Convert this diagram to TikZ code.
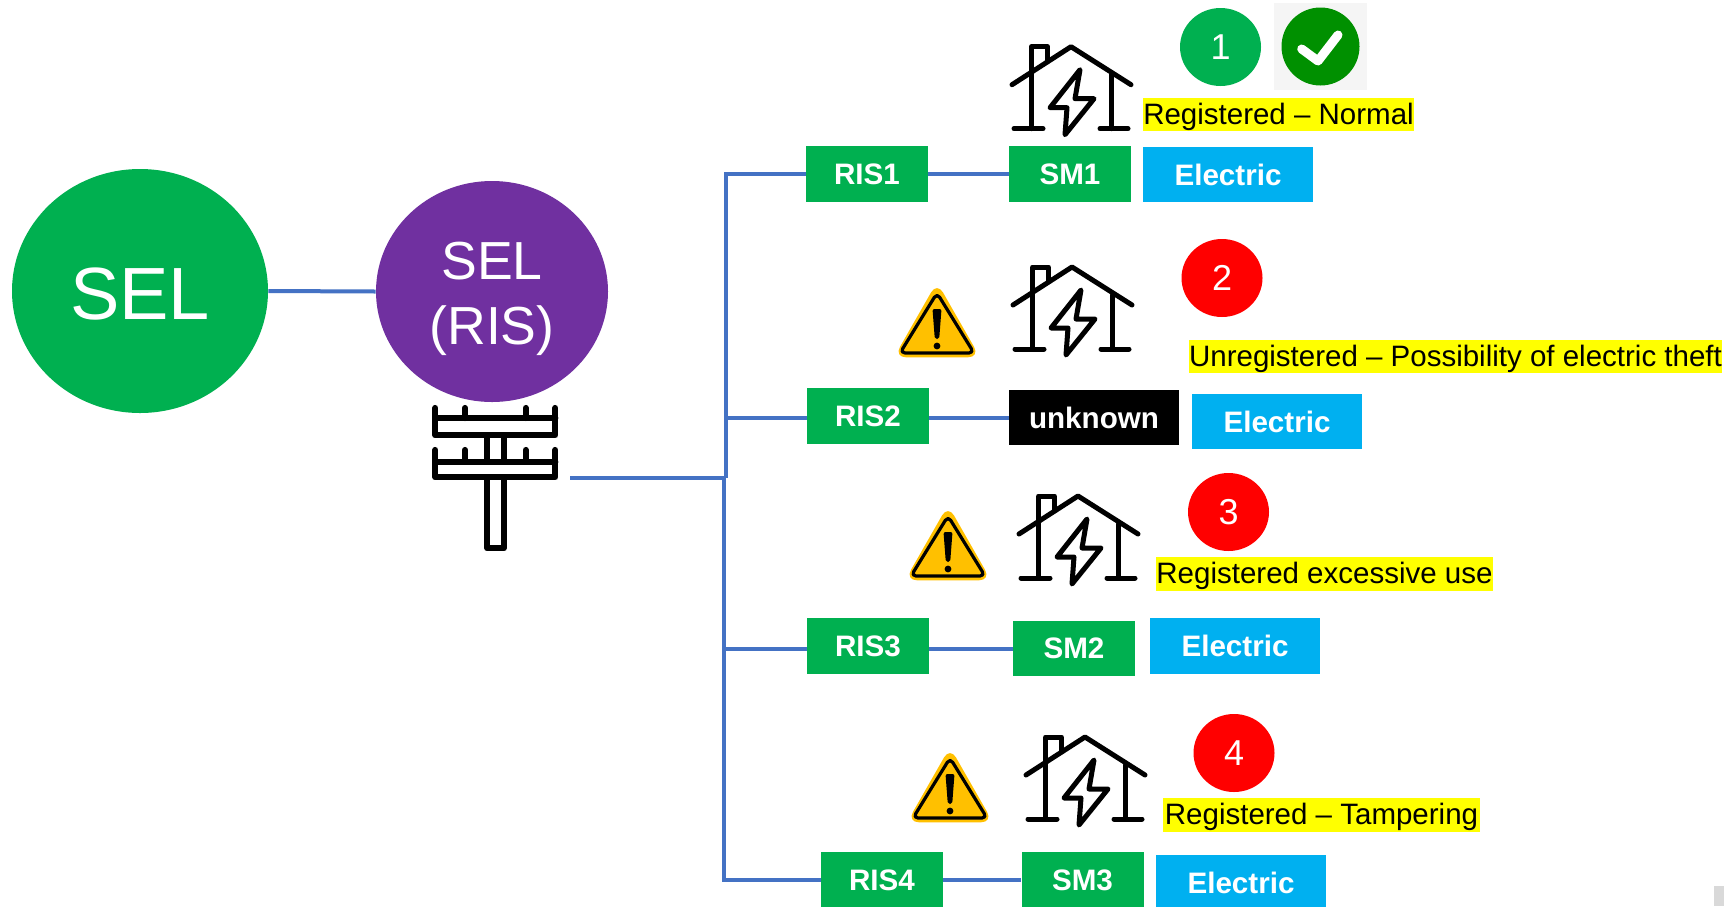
\documentclass[tikz,border=0pt]{standalone}
\usepackage{fontspec}
\usetikzlibrary{shapes.geometric}
\setmainfont{Liberation Sans}
\definecolor{cgreen}{RGB}{0,176,80}
\definecolor{cblue}{RGB}{0,176,240}
\definecolor{cpurple}{RGB}{112,48,160}
\definecolor{cline}{RGB}{68,114,196}
\definecolor{cwarn}{RGB}{255,192,0}
\definecolor{ccheck}{RGB}{0,144,0}
\definecolor{cyell}{RGB}{255,255,0}
\definecolor{cred}{RGB}{255,0,0}
\tikzset{
  x=0.5pt,y=-0.5pt,
  tag/.style={rectangle,inner sep=0pt,text=white,font=\fontsize{14.8}{17}\bfseries\selectfont,minimum height=28pt},
  gbox/.style={tag,fill=cgreen,minimum width=61pt},
  ebox/.style={tag,fill=cblue,minimum width=85pt},
  kbox/.style={tag,fill=black,minimum width=85pt},
  num/.style={ellipse,inner sep=0pt,minimum width=40.5pt,minimum height=39pt,text=white,font=\fontsize{18}{20}\selectfont},
  note/.style={rectangle,fill=cyell,inner sep=0pt,text=black,minimum height=16.8pt,text height=13pt,text depth=3.4pt,font=\fontsize{14.75}{18}\selectfont},
  wire/.style={draw=cline,line width=2pt},
  glyph/.style={draw=black,line width=2.5pt,line cap=round,line join=round},
  pics/house/.style={code={
    \draw[glyph] (-59,38) -- (0,0) -- (60,38);
    \draw[glyph] (-39.3,82) -- (-39.3,0) -- (-23.7,0) -- (-23.7,15);
    \draw[glyph] (40.7,28) -- (40.7,82);
    \draw[glyph] (-57,82) -- (-28,82);
    \draw[glyph] (29,82) -- (57,82);
    \draw[glyph] (9,23) -- (-21,61) -- (-4,61) -- (-6,88) -- (23,52) -- (4,52) -- cycle;
  }},
  pics/warn/.style={code={
    \fill[cwarn,rounded corners=6pt] (0,-8) -- (-43,67.3) -- (43,67.3) -- cycle;
    \draw[black,line width=1.6pt,rounded corners=2.5pt,line join=round] (0,3) -- (-37,63) -- (37,63) -- cycle;
    \fill[black,rounded corners=1pt] (-4.5,19) -- (4.5,19) -- (2.2,49) -- (-2.2,49) -- cycle;
    \fill[black] (0,56) circle (1.7pt);
  }},
}
\begin{document}
\begin{tikzpicture}
\useasboundingbox (0,0) rectangle (1724,906);
\clip (0,0) rectangle (1724,906);
\fill[white] (0,0) rectangle (1724,906);

% main circles
\node[ellipse,fill=cgreen,inner sep=0pt,minimum width=128pt,minimum height=122pt,text=white,text height=29pt,font=\fontsize{37}{40}\selectfont] (sel) at (140,291) {SEL};
\node[ellipse,fill=cpurple,inner sep=0pt,minimum width=116pt,minimum height=110.5pt,text=white,align=center,font=\fontsize{26.8}{32.5}\selectfont] (selris) at (492,291.5) {\rule{0pt}{26pt}SEL\\(RIS)};
\draw[wire] (sel.east) -- (selris.west);

% pole
\draw[glyph,line width=3.1pt]
  (435.3,408) -- (435.3,435.3) -- (555.3,435.3) -- (555.3,408)
  (435.3,418.3) -- (555.3,418.3)
  (465,408) -- (465,418) (525.7,408) -- (525.7,418)
  (435.3,450) -- (435.3,477.3) -- (555.3,477.3) -- (555.3,450)
  (435.3,461.7) -- (555.3,461.7)
  (465,450) -- (465,461.7) (525.7,450) -- (525.7,461.7)
  (487.3,435.3) -- (487.3,461.7) (503.7,435.3) -- (503.7,461.7)
  (487.3,477.3) -- (487.3,548.3) -- (503.7,548.3) -- (503.7,477.3);

% boxes
\node[gbox] (ris1) at (867,174) {RIS1};
\node[gbox] (sm1) at (1070,174) {SM1};
\node[ebox,minimum height=27.5pt] (el1) at (1228,174.5) {Electric};
\node[gbox] (ris2) at (868,416) {RIS2};
\node[kbox,minimum height=27.5pt] (unk) at (1094,417.5) {unknown};
\node[ebox,minimum height=27.5pt] (el2) at (1277,421.5) {Electric};
\node[gbox] (ris3) at (868,646) {RIS3};
\node[gbox,minimum height=27.5pt] (sm2) at (1074,648.5) {SM2};
\node[ebox] (el3) at (1235,646) {Electric};
\node[gbox] (ris4) at (882,880) {RIS4};
\node[gbox] (sm3) at (1082.5,880) {SM3};
\node[ebox] (el4) at (1241,883) {Electric};

% connectors
\coordinate (pole) at (570,478);
\coordinate (jt) at (725.5,478);
\coordinate (b1) at (725.5,174);
\coordinate (b2) at (725,418);
\coordinate (b3) at (723.5,649);
\coordinate (b4) at (723.5,880);
\draw[wire] (pole) -- (jt);
\draw[wire] (jt) -- (b1) -- (ris1.west);
\draw[wire] (ris1.east) -- (sm1.west);
\draw[wire] (jt) ++(-2,0) -- (b4) -- (b4 -| ris4.west);
\draw[wire] (b2) -- (b2 -| ris2.west);
\draw[wire] (b2 -| ris2.east) -- (b2 -| unk.west);
\draw[wire] (b3) -- (b3 -| ris3.west);
\draw[wire] (b3 -| ris3.east) -- (b3 -| sm2.west);
\draw[wire] (ris4.east) -- (sm3.west);

% houses and warnings
\pic at (1071,46.7) {house};
\pic at (1072,267) {house};
\pic at (1078,496) {house};
\pic at (1085,737) {house};
\pic at (937,290) {warn};
\pic at (948,513) {warn};
\pic at (950,755) {warn};

% number badges
\node[num,fill=cgreen] (n1) at (1220.5,47) {1};
\node[num,fill=cred] (n2) at (1222,278) {2};
\node[num,fill=cred] (n3) at (1228.5,512) {3};
\node[num,fill=cred] (n4) at (1234,753) {4};

% check mark
\fill[black!4] (1274,3) rectangle (1367,90);
\fill[ccheck] (1320.5,46.5) circle (19.5pt);
\draw[white,line width=4.5pt,line cap=round,line join=round] (1301.7,49) -- (1318,61) -- (1338,35);

% notes
\node[note,minimum width=134.5pt] (t1) at (1278.5,114.5) {Registered – Normal};
\node[note,minimum width=265.5pt] (t2) at (1455.5,356.5) {Unregistered – Possibility of electric theft};
\node[note,minimum width=167.5pt] (t3) at (1324.5,574) {Registered excessive use};
\node[note,minimum width=158.5pt] (t4) at (1321.5,815) {Registered – Tampering};

% corner mark
\fill[black!15] (1714,886) rectangle (1724,906);
\end{tikzpicture}
\end{document}
